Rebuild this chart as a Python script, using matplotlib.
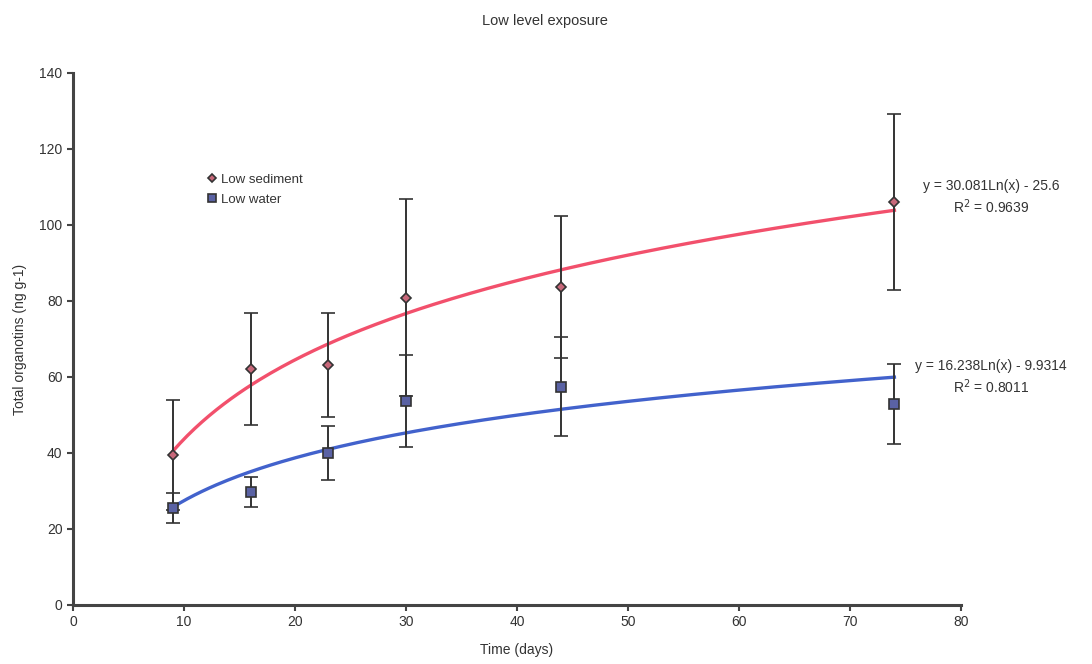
import numpy as np
import matplotlib
matplotlib.use('Agg')
import matplotlib.pyplot as plt

plt.rcParams['font.family'] = ['Liberation Sans', 'DejaVu Sans']

days = [9, 16, 23, 30, 44, 74]
sediment = [39.5, 62.1, 63.2, 80.9, 83.8, 106.1]
sediment_err = [14.5, 14.7, 13.7, 26.0, 18.7, 23.2]
water = [25.5, 29.8, 40.0, 53.7, 57.5, 52.9]
water_err = [4.0, 4.0, 7.0, 12.0, 12.9, 10.6]

# log fits: y = a*ln(x) + b
sed_fit = (30.081, -25.6, 0.9639)
wat_fit = (16.238, -9.9314, 0.8011)

dark = '#333333'
fig = plt.figure(figsize=(10.92, 6.64), dpi=100)
ax = fig.add_axes([73/1092, 59/664, 888/1092, 532/664])

xf = np.linspace(days[0], days[-1], 200)
ax.plot(xf, sed_fit[0]*np.log(xf) + sed_fit[1], color='#f2506c', lw=2.4, zorder=2)
ax.plot(xf, wat_fit[0]*np.log(xf) + wat_fit[1], color='#4262cc', lw=2.4, zorder=2)

ax.errorbar(days, sediment, yerr=sediment_err, fmt='D', ms=5.5, mfc='#c8687a',
            mec=dark, mew=1.2, ecolor=dark, elinewidth=1.4, capsize=5,
            capthick=1.4, label='Low sediment', zorder=3)
ax.errorbar(days, water, yerr=water_err, fmt='s', ms=7.5, mfc='#5a62a4',
            mec=dark, mew=1.2, ecolor=dark, elinewidth=1.4, capsize=5,
            capthick=1.4, label='Low water', zorder=3)

ax.set_xlim(0, 80)
ax.set_ylim(0, 140)
ax.set_xticks(range(0, 81, 10))
ax.set_yticks(range(0, 141, 20))
for s in ['top', 'right']:
    ax.spines[s].set_visible(False)
for s in ['left', 'bottom']:
    ax.spines[s].set_linewidth(2.2)
    ax.spines[s].set_color('#444444')
ax.tick_params(direction='out', length=4, width=1.5, color='#444444',
               labelsize=10, labelcolor=dark)

ax.set_xlabel('Time (days)', fontsize=10, color=dark, labelpad=10)
ax.set_ylabel('Total organotins (ng g-1)', fontsize=10, color=dark, labelpad=9)
fig.text(545/1092, 1 - 21/664, 'Low level exposure', ha='center', va='center',
         fontsize=10.5, color=dark)

for fit, y1 in [(sed_fit, 110.3), (wat_fit, 62.9)]:
    ax.text(82.7, y1, 'y = %gLn(x) - %g' % (fit[0], -fit[1]), ha='center',
            va='center', fontsize=10, color=dark, clip_on=False)
    ax.text(82.7, y1 - 5.5, 'R$^2$ = %.4f' % fit[2], ha='center', va='center',
            fontsize=10, color=dark, clip_on=False)

handles, labels = ax.get_legend_handles_labels()
handles = [h[0] for h in handles]
leg = ax.legend(handles, labels, loc='upper left',
                bbox_to_anchor=(196/1092, 1 - 162/664),
                bbox_transform=fig.transFigure, frameon=False, fontsize=9.5,
                handlelength=0.6, handletextpad=0.4, labelspacing=0.55,
                markerscale=0.8)
for t in leg.get_texts():
    t.set_color(dark)

fig.savefig('out.png', dpi=100)
